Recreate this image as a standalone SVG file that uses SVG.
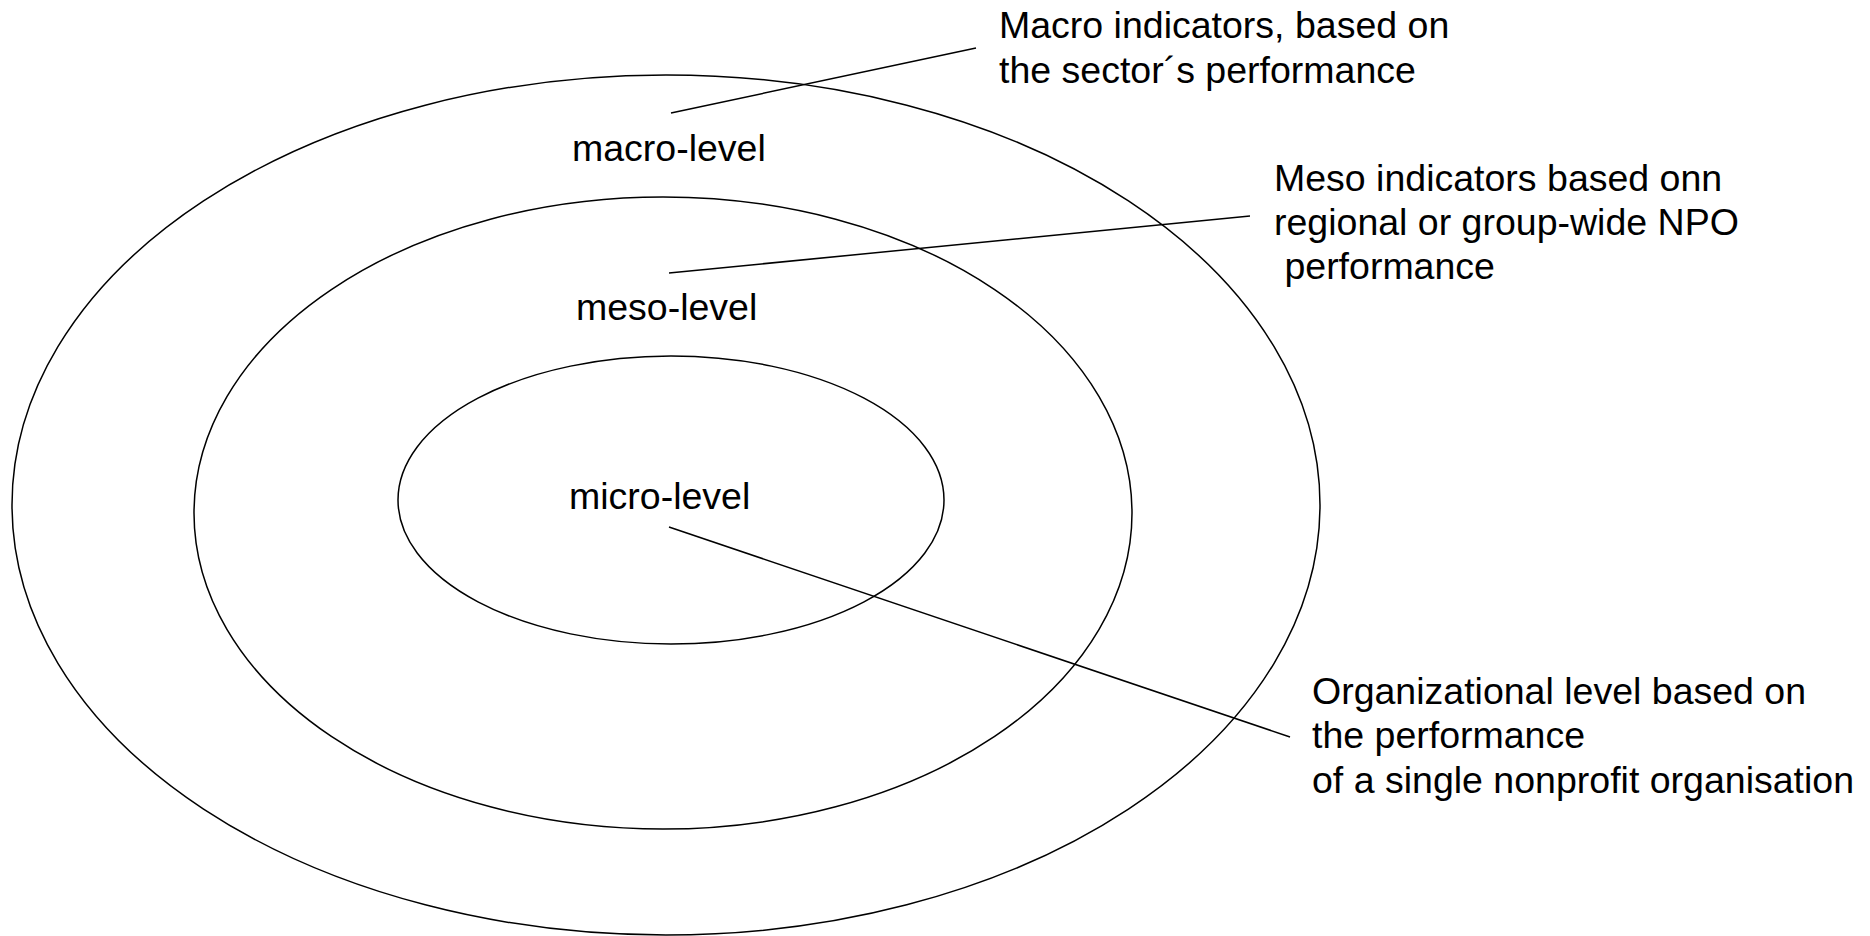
<svg xmlns="http://www.w3.org/2000/svg" width="1870" height="936" viewBox="0 0 1870 936">
<style>
.ring{fill:none;stroke:#000;stroke-width:1.5}
.lead{stroke:#000;stroke-width:1.5;fill:none}
text{font-family:"Liberation Sans",Arial,sans-serif;font-size:37.5px;fill:#000}
</style>
<rect width="1870" height="936" fill="#fff"/>
<g id="macro"><ellipse class="ring" cx="666" cy="505" rx="654" ry="430"/><text x="572" y="161">macro-level</text></g>
<g id="meso"><ellipse class="ring" cx="663" cy="513" rx="469" ry="316"/><text x="576" y="320">meso-level</text></g>
<g id="micro"><ellipse class="ring" cx="671" cy="500" rx="273" ry="144"/><text x="569" y="509">micro-level</text></g>
<g id="macro-note"><text x="999" y="38">Macro indicators, based on</text><text x="999" y="83">the sector´s performance</text></g>
<g id="meso-note"><text x="1274" y="191">Meso indicators based onn</text><text x="1274" y="235">regional or group-wide NPO</text><text x="1274" y="279" xml:space="preserve"> performance</text></g>
<g id="micro-note"><text x="1312" y="704">Organizational level based on</text><text x="1312" y="748">the performance</text><text x="1312" y="793">of a single nonprofit organisation</text></g>
<g id="connectors">
<line class="lead" x1="671" y1="113" x2="976" y2="48"/>
<line class="lead" x1="669" y1="273" x2="1250" y2="216"/>
<line class="lead" x1="669" y1="527" x2="1290" y2="737"/>
</g>
</svg>
